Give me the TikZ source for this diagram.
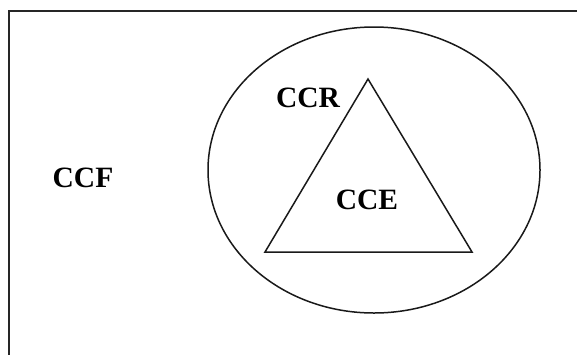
\documentclass[tikz,border=0pt]{standalone}
\usepackage{fontspec}
\setmainfont{Liberation Serif}
\usetikzlibrary{shapes.geometric}
\begin{document}
\begin{tikzpicture}[x=1pt,y=-1pt,
  lbl/.style={font=\fontsize{29.5}{31}\selectfont\bfseries, inner sep=0pt},
  thin line/.style={draw=black!90, line width=1.5pt}]
\useasboundingbox (0,0) rectangle (577,354);
\clip (0,0) rectangle (577,354);
\fill[white] (0,0) rectangle (577,354);
% outer frame (right and bottom edges lie outside the picture)
\draw[line width=2.2pt, draw=black!85] (9,11) rectangle (600,380);
% ellipse
\node[thin line, ellipse, minimum width=332pt, minimum height=286pt, inner sep=0pt] (ell) at (374,170) {};
% triangle
\coordinate (apex) at (368,79);
\coordinate (bl) at (265,252);
\coordinate (br) at (472,252);
\draw[thin line, line join=miter] (apex) -- (bl) -- (br) -- cycle;
% labels
\node[lbl] (ccf) at (83,178) {CCF};
\node[lbl] (ccr) at (308,98) {CCR};
\node[lbl] (cce) at (367,200) {CCE};
\end{tikzpicture}
\end{document}
